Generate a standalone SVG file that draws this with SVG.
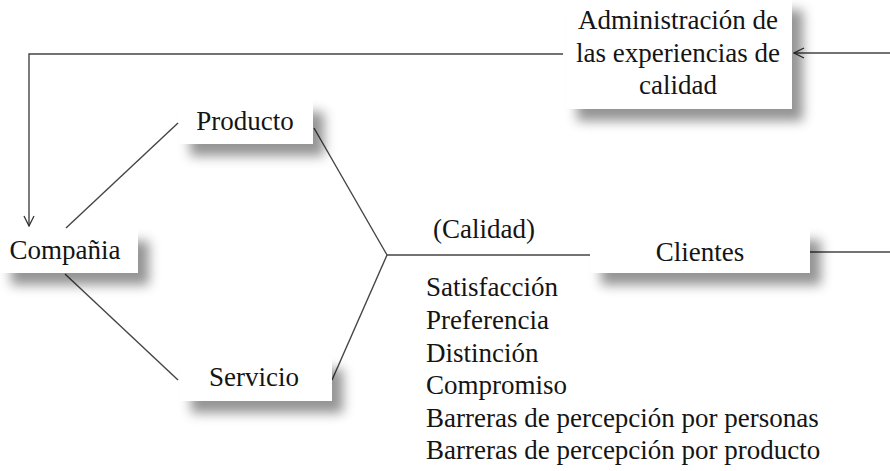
<svg xmlns="http://www.w3.org/2000/svg" width="890" height="471" viewBox="0 0 890 471">
<defs>
<filter id="sh" x="-20%" y="-30%" width="150%" height="190%">
<feGaussianBlur in="SourceAlpha" stdDeviation="6"/>
<feOffset dx="11" dy="12" result="b"/>
<feFlood flood-color="#000" flood-opacity="0.42"/>
<feComposite in2="b" operator="in" result="s"/>
<feMerge><feMergeNode in="s"/><feMergeNode in="SourceGraphic"/></feMerge>
</filter>
<marker id="arr" viewBox="0 0 12 12" refX="11" refY="6" markerWidth="12" markerHeight="12" markerUnits="userSpaceOnUse" orient="auto">
<path d="M1,1 L11,6 L1,11" fill="none" stroke="#333" stroke-width="1.3"/>
</marker>
<style>
.box{fill:#fff;filter:url(#sh)}
.t{font-family:'Liberation Serif','DejaVu Serif',serif;font-size:27px;fill:#141414}
.m{text-anchor:middle}
.ln{fill:none;stroke:#444;stroke-width:1.4}
</style>
</defs>
<rect width="890" height="471" fill="#fff"/>
<g id="connectors">
<polyline class="ln" points="563,54 29,54 29,226" marker-end="url(#arr)"/>
<line class="ln" x1="890" y1="53" x2="794" y2="53" marker-end="url(#arr)"/>
<line class="ln" x1="66" y1="228" x2="178" y2="123"/>
<line class="ln" x1="65" y1="274" x2="178" y2="380"/>
<line class="ln" x1="314" y1="128" x2="387" y2="255"/>
<line class="ln" x1="332" y1="380" x2="387" y2="255"/>
<line class="ln" x1="387" y1="255" x2="590" y2="255"/>
<line class="ln" x1="810" y1="252" x2="890" y2="252"/>
</g>
<g id="admin">
<rect class="box" x="566" y="-2" width="226" height="111"/>
<text class="t m" font-family="Liberation Serif, serif" x="678" y="29">Administración de</text>
<text class="t m" font-family="Liberation Serif, serif" x="678" y="62">las experiencias de</text>
<text class="t m" font-family="Liberation Serif, serif" x="678" y="94">calidad</text>
</g>
<g id="compania">
<rect class="box" x="0" y="229" width="138" height="44"/>
<text class="t m" font-family="Liberation Serif, serif" x="65" y="259">Compañia</text>
</g>
<g id="producto">
<rect class="box" x="179" y="100" width="134" height="44"/>
<text class="t m" font-family="Liberation Serif, serif" x="245" y="130">Producto</text>
</g>
<g id="servicio">
<rect class="box" x="180" y="357" width="152" height="44"/>
<text class="t m" font-family="Liberation Serif, serif" x="254" y="386">Servicio</text>
</g>
<g id="clientes">
<rect class="box" x="590" y="228" width="220" height="45"/>
<text class="t m" font-family="Liberation Serif, serif" x="700" y="261">Clientes</text>
</g>
<g id="calidad">
<text class="t m" font-family="Liberation Serif, serif" x="484" y="238">(Calidad)</text>
</g>
<g id="lista">
<text class="t" font-family="Liberation Serif, serif" x="426" y="296">Satisfacción</text>
<text class="t" font-family="Liberation Serif, serif" x="426" y="329">Preferencia</text>
<text class="t" font-family="Liberation Serif, serif" x="426" y="362">Distinción</text>
<text class="t" font-family="Liberation Serif, serif" x="426" y="394">Compromiso</text>
<text class="t" font-family="Liberation Serif, serif" x="426" y="427">Barreras de percepción por personas</text>
<text class="t" font-family="Liberation Serif, serif" x="426" y="459">Barreras de percepción por producto</text>
</g>
</svg>
